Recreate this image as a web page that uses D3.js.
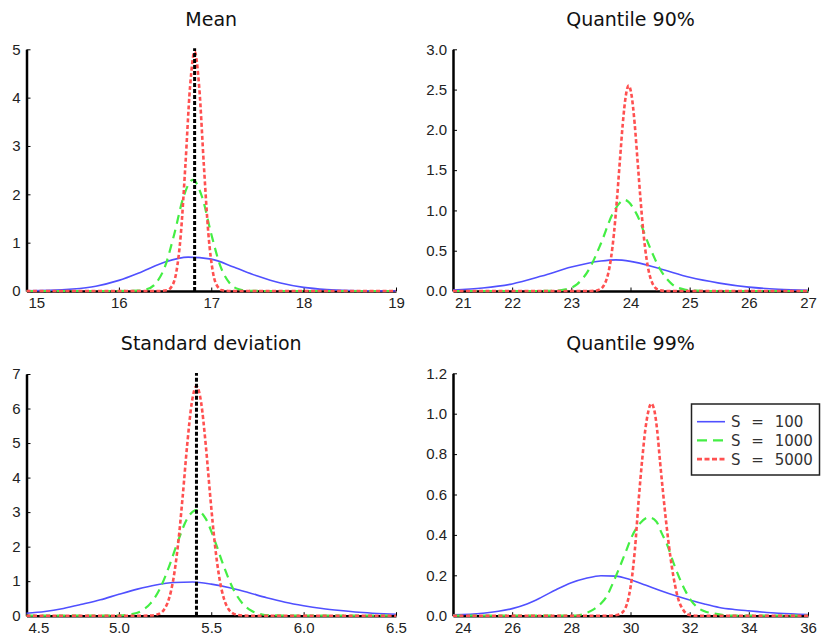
<!DOCTYPE html>
<html><head><meta charset="utf-8">
<script src="https://cdn.jsdelivr.net/npm/d3@7"></script>
<style>body{margin:0;background:#fff} svg{display:block}</style>
</head><body>
<svg id="c" width="821" height="640"></svg>
<script>
// ---------- data ----------
const titles = ["Mean", "Quantile 90%", "Standard deviation", "Quantile 99%"];
const seriesLabels = ["S = 100", "S = 1000", "S = 5000"];

const meanXTicks = [15, 16, 17, 18, 19];
const meanYTicks = [0, 1, 2, 3, 4, 5];
const q90XTicks = [21, 22, 23, 24, 25, 26, 27];
const q90YTicks = [0, 0.5, 1, 1.5, 2, 2.5, 3];
const sdXTicks = [4.5, 5, 5.5, 6, 6.5];
const sdYTicks = [0, 1, 2, 3, 4, 5, 6, 7];
const q99XTicks = [24, 26, 28, 30, 32, 34, 36];
const q99YTicks = [0, 0.2, 0.4, 0.6, 0.8, 1, 1.2];

const meanRef = 16.82;
const sdRef = 5.42;

const meanS100 = [[15,0.004],[15.25,0.012],[15.5,0.04],[15.75,0.1],[16,0.22],[16.25,0.4],[16.5,0.6],[16.75,0.7],[17,0.66],[17.25,0.49],[17.5,0.31],[17.75,0.165],[18,0.075],[18.25,0.03],[18.5,0.01],[18.75,0.003],[19,0.001]];
const meanS1000 = [[15,0],[16,0],[16.2,0.006],[16.3,0.035],[16.4,0.16],[16.5,0.51],[16.6,1.18],[16.7,1.95],[16.8,2.3],[16.9,1.95],[17,1.18],[17.1,0.51],[17.2,0.16],[17.3,0.035],[17.4,0.006],[17.6,0],[19,0]];
const meanS5000 = [[15,0],[16.42,0],[16.52,0.015],[16.57,0.088],[16.62,0.37],[16.67,1.16],[16.72,2.6],[16.77,4.21],[16.82,4.95],[16.87,4.21],[16.92,2.6],[16.97,1.16],[17.02,0.37],[17.07,0.088],[17.12,0.015],[17.22,0],[19,0]];

const q90S100 = [[21,0.012],[21.5,0.038],[22,0.088],[22.5,0.185],[23,0.297],[23.5,0.372],[23.75,0.386],[24,0.368],[24.5,0.275],[25,0.17],[25.5,0.098],[26,0.048],[26.5,0.022],[27,0.009]];
const q90S1000 = [[21,0],[22.4,0],[22.7,0.0035],[22.9,0.02],[23.1,0.086],[23.3,0.27],[23.5,0.59],[23.7,0.96],[23.9,1.13],[24.1,0.96],[24.3,0.59],[24.5,0.27],[24.7,0.086],[24.9,0.02],[25.1,0.0035],[25.4,0],[27,0]];
const q90S5000 = [[21,0],[23.27,0],[23.37,0.001],[23.47,0.015],[23.57,0.097],[23.67,0.405],[23.72,0.71],[23.77,1.13],[23.82,1.61],[23.87,2.08],[23.92,2.42],[23.97,2.55],[24.02,2.42],[24.07,2.08],[24.12,1.61],[24.17,1.13],[24.22,0.71],[24.27,0.405],[24.37,0.097],[24.47,0.015],[24.57,0.001],[24.67,0],[27,0]];

const sdS100 = [[4.5,0.07],[4.6,0.12],[4.7,0.21],[4.8,0.33],[4.9,0.46],[5.0,0.62],[5.1,0.77],[5.2,0.89],[5.3,0.96],[5.4,0.975],[5.5,0.915],[5.6,0.81],[5.7,0.67],[5.8,0.52],[5.9,0.39],[6.0,0.29],[6.1,0.21],[6.2,0.15],[6.3,0.1],[6.4,0.065],[6.5,0.04]];
const sdS1000 = [[4.5,0],[4.9,0],[5.02,0.012],[5.07,0.043],[5.12,0.134],[5.17,0.35],[5.22,0.76],[5.27,1.4],[5.32,2.16],[5.37,2.81],[5.42,3.06],[5.47,2.81],[5.52,2.16],[5.57,1.4],[5.62,0.76],[5.67,0.35],[5.72,0.134],[5.77,0.043],[5.82,0.012],[5.94,0],[6.5,0]];
const sdS5000 = [[4.5,0],[5.12,0],[5.17,0.004],[5.22,0.06],[5.245,0.18],[5.27,0.47],[5.295,1.06],[5.32,2.05],[5.345,3.43],[5.37,4.96],[5.395,6.18],[5.42,6.65],[5.445,6.18],[5.47,4.96],[5.495,3.43],[5.52,2.05],[5.545,1.06],[5.57,0.47],[5.595,0.18],[5.62,0.06],[5.67,0.004],[5.72,0],[6.5,0]];

const q99S100 = [[24,0.004],[25,0.012],[26,0.035],[26.5,0.058],[27,0.092],[27.5,0.13],[28,0.163],[28.5,0.185],[29,0.198],[29.5,0.196],[30,0.178],[30.5,0.152],[31,0.125],[31.5,0.1],[32,0.078],[32.5,0.058],[33,0.041],[33.5,0.031],[34,0.024],[35,0.012],[36,0.006]];
const q99S1000 = [[24,0],[28.06,0],[28.4,0.008],[28.74,0.03],[29,0.06],[29.19,0.094],[29.4,0.16],[29.64,0.243],[29.85,0.32],[30.04,0.39],[30.32,0.457],[30.63,0.487],[30.88,0.465],[31.05,0.41],[31.22,0.358],[31.5,0.243],[31.84,0.127],[32.05,0.075],[32.23,0.045],[32.5,0.022],[32.79,0.012],[33.47,0],[36,0]];
const q99S5000 = [[24,0],[29.3,0],[29.6,0.006],[29.8,0.03],[29.95,0.1],[30.05,0.19],[30.15,0.33],[30.28,0.58],[30.4,0.78],[30.5,0.92],[30.6,1.01],[30.7,1.05],[30.8,1.02],[30.9,0.92],[31,0.76],[31.1,0.61],[31.2,0.47],[31.4,0.24],[31.6,0.09],[31.8,0.025],[32,0.003],[32.2,0],[36,0]];

// ---------- styles / layout ----------
const styles = [
  {color: "#5050ff", width: 1.6, dash: null},
  {color: "#44ee44", width: 2.2, dash: "9,6"},
  {color: "#ff5050", width: 2.6, dash: "4,2.5"}
];
const fInt = d3.format("d"), f1 = d3.format(".1f");

const panels = [
  {title: titles[0], xd: [15,19], yd: [0,5], xt: meanXTicks, yt: meanYTicks, xf: fInt, yf: fInt,
   series: [meanS100, meanS1000, meanS5000], ref: meanRef, box: [26.5, 396, 49.3, 291], titleY: 26},
  {title: titles[1], xd: [21,27], yd: [0,3], xt: q90XTicks, yt: q90YTicks, xf: fInt, yf: f1,
   series: [q90S100, q90S1000, q90S5000], ref: null, box: [453, 808, 49.3, 291], titleY: 26},
  {title: titles[2], xd: [4.5,6.5], yd: [0,7], xt: sdXTicks, yt: sdYTicks, xf: f1, yf: fInt,
   series: [sdS100, sdS1000, sdS5000], ref: sdRef, box: [26.5, 396, 374, 615.7], titleY: 350},
  {title: titles[3], xd: [24,36], yd: [0,1.2], xt: q99XTicks, yt: q99YTicks, xf: fInt, yf: f1,
   series: [q99S100, q99S1000, q99S5000], ref: null, box: [453, 808, 373.3, 615.7], titleY: 350, legend: true}
];

const svg = d3.select("#c");

panels.forEach(p => {
  const [x0, x1, y0, y1] = p.box;
  const x = d3.scaleLinear().domain(p.xd).range([x0, x1]);
  const y = d3.scaleLinear().domain(p.yd).range([y1, y0]);
  const g = svg.append("g");

  // title
  g.append("text").attr("x", (x0 + x1) / 2).attr("y", p.titleY)
    .attr("text-anchor", "middle")
    .style("font-family", "'DejaVu Sans', sans-serif").style("font-size", "19px")
    .style("fill", "#111").text(p.title);

  // axes
  const ya = d3.axisLeft(y).tickValues(p.yt).tickFormat(p.yf)
    .tickSizeInner(-4).tickSizeOuter(0).tickPadding(6);
  const xa = d3.axisBottom(x).tickValues(p.xt).tickFormat(p.xf)
    .tickSizeInner(-3.5).tickSizeOuter(0).tickPadding(6.5);

  const gy = g.append("g").attr("transform", `translate(${x0},0)`).call(ya);
  const gx = g.append("g").attr("transform", `translate(0,${y1})`).call(xa);
  [gx, gy].forEach(a => {
    a.select(".domain").attr("stroke", "#000").attr("stroke-width", 2.5);
    a.selectAll(".tick line").attr("stroke", "#000").attr("stroke-width", 1);
    a.selectAll(".tick text").style("font-family", "'Liberation Sans', Arial, sans-serif")
      .style("font-size", "15px").attr("fill", "#222");
  });
  gx.select(".tick text").attr("text-anchor", "start").attr("x", 1.5);

  // curves
  const line = d3.line().x(d => x(d[0])).y(d => y(d[1])).curve(d3.curveMonotoneX);
  p.series.forEach((s, i) => {
    const st = styles[i];
    g.append("path").datum(s).attr("d", line)
      .attr("fill", "none").attr("stroke", st.color).attr("stroke-width", st.width)
      .attr("stroke-dasharray", st.dash);
  });

  // reference (true value) line
  if (p.ref !== null) {
    g.append("line").attr("x1", x(p.ref)).attr("x2", x(p.ref))
      .attr("y1", y(0)).attr("y2", y(p.yd[1]) - 1)
      .attr("stroke", "#000").attr("stroke-width", 3).attr("stroke-dasharray", "4,2");
  }

  // legend
  if (p.legend) {
    const lg = svg.append("g");
    lg.append("rect").attr("x", 691.5).attr("y", 404).attr("width", 128).attr("height", 71)
      .attr("fill", "#fff").attr("stroke", "#222").attr("stroke-width", 1.5);
    seriesLabels.forEach((lab, i) => {
      const yy = 421.7 + i * 18.7;
      const st = styles[i];
      lg.append("line").attr("x1", 697).attr("x2", 725).attr("y1", yy).attr("y2", yy)
        .attr("stroke", st.color).attr("stroke-width", st.width)
        .attr("stroke-dasharray", i === 1 ? "10,6" : (i === 2 ? "5,2.5" : null));
      lg.append("text").attr("x", 731).attr("y", yy).attr("dy", "0.36em")
        .style("font-family", "'DejaVu Sans', sans-serif").style("font-size", "15px")
        .style("word-spacing", "6px").attr("fill", "#333").text(lab);
    });
  }
});
</script>
</body></html>
